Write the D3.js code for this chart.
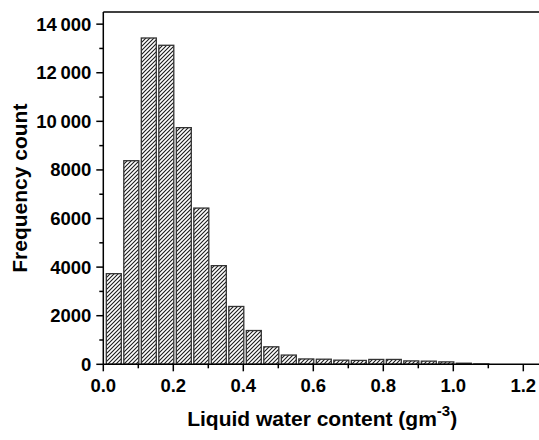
<!DOCTYPE html>
<html>
<head>
<meta charset="utf-8">
<script src="https://cdn.jsdelivr.net/npm/d3@7"></script>
<style>
  html, body { margin: 0; padding: 0; background: #fff; }
  svg { display: block; font-family: "Liberation Sans", Arial, sans-serif; }
</style>
</head>
<body>
<div id="chart"></div>
<script>
// bin left edges (gm-3), bin width 0.05
var binStarts = [0.00, 0.05, 0.10, 0.15, 0.20, 0.25, 0.30, 0.35, 0.40, 0.45, 0.50,
                 0.55, 0.60, 0.65, 0.70, 0.75, 0.80, 0.85, 0.90, 0.95, 1.00, 1.05];
var counts = [3730, 8380, 13430, 13130, 9740, 6430, 4060, 2380, 1390, 720, 380,
              220, 210, 170, 160, 200, 200, 140, 130, 100, 45, 15];
var binWidth = 0.05;
var xTicks = [0.0, 0.2, 0.4, 0.6, 0.8, 1.0, 1.2];
var xMinor = [0.1, 0.3, 0.5, 0.7, 0.9, 1.1];
var yTicks = [0, 2000, 4000, 6000, 8000, 10000, 12000, 14000];
var yMinor = [1000, 3000, 5000, 7000, 9000, 11000, 13000];

function drawChart() {
    var width = 539, height = 440;
    var left = 103.3, plotTop = 12, bottom = 364.3;

    var svg = d3.select('#chart').append('svg')
        .attr('width', width)
        .attr('height', height);

    var defs = svg.append('defs');
    defs.append('pattern')
        .attr('id', 'hatch')
        .attr('patternUnits', 'userSpaceOnUse')
        .attr('width', 4)
        .attr('height', 4)
        .append('path')
        .attr('d', 'M-1,1 L1,-1 M0,4 L4,0 M3,5 L5,3')
        .attr('stroke', '#1a1a1a')
        .attr('stroke-width', 1.1);

    var x = d3.scaleLinear().domain([0, 1.25]).range([left, left + 1.25 * 350]);
    var y = d3.scaleLinear().domain([0, 14500]).range([bottom, plotTop]);

    // bars
    var barW = x(binWidth) - x(0);
    svg.append('g')
        .selectAll('rect')
        .data(binStarts)
        .join('rect')
        .attr('x', function(d) { return x(d) + 3; })
        .attr('y', function(d, i) { return y(counts[i]); })
        .attr('width', barW - 2.5)
        .attr('height', function(d, i) { return bottom - y(counts[i]); })
        .attr('fill', 'url(#hatch)')
        .attr('stroke', '#333')
        .attr('stroke-width', 1.3);

    // frame top line
    svg.append('line')
        .attr('x1', left).attr('x2', width + 5)
        .attr('y1', plotTop).attr('y2', plotTop)
        .attr('stroke', '#000').attr('stroke-width', 1.5);

    // y axis
    var yAxis = svg.append('g').attr('transform', 'translate(' + left + ',0)');
    yAxis.append('line')
        .attr('x1', 0).attr('x2', 0).attr('y1', plotTop).attr('y2', bottom)
        .attr('stroke', '#000').attr('stroke-width', 1.5);
    yAxis.selectAll('.major').data(yTicks).join('line')
        .attr('class', 'major')
        .attr('x1', -7).attr('x2', 0)
        .attr('y1', function(d) { return y(d); }).attr('y2', function(d) { return y(d); })
        .attr('stroke', '#000').attr('stroke-width', 1.5);
    yAxis.selectAll('.minor').data(yMinor).join('line')
        .attr('class', 'minor')
        .attr('x1', -4).attr('x2', 0)
        .attr('y1', function(d) { return y(d); }).attr('y2', function(d) { return y(d); })
        .attr('stroke', '#000').attr('stroke-width', 1.5);
    yAxis.selectAll('text').data(yTicks).join('text')
        .attr('x', -12)
        .attr('y', function(d) { return y(d) + 6.5; })
        .attr('text-anchor', 'end')
        .attr('font-size', '18.5px')
        .attr('font-weight', 'bold')
        .text(function(d) {
            var s = String(d);
            return d >= 10000 ? s.slice(0, 2) + '\u2009' + s.slice(2) : s;
        });

    // x axis
    var xAxis = svg.append('g').attr('transform', 'translate(0,' + bottom + ')');
    xAxis.append('line')
        .attr('x1', left).attr('x2', width + 5).attr('y1', 0).attr('y2', 0)
        .attr('stroke', '#000').attr('stroke-width', 1.5);
    xAxis.selectAll('.major').data(xTicks).join('line')
        .attr('class', 'major')
        .attr('x1', function(d) { return x(d); }).attr('x2', function(d) { return x(d); })
        .attr('y1', 0).attr('y2', 7)
        .attr('stroke', '#000').attr('stroke-width', 1.5);
    xAxis.selectAll('.minor').data(xMinor).join('line')
        .attr('class', 'minor')
        .attr('x1', function(d) { return x(d); }).attr('x2', function(d) { return x(d); })
        .attr('y1', 0).attr('y2', 4)
        .attr('stroke', '#000').attr('stroke-width', 1.5);
    xAxis.selectAll('text').data(xTicks).join('text')
        .attr('x', function(d) { return x(d); })
        .attr('y', 27.5)
        .attr('text-anchor', 'middle')
        .attr('font-size', '18.5px')
        .attr('font-weight', 'bold')
        .text(function(d) { return d.toFixed(1); });

    // axis titles
    svg.append('text')
        .attr('transform', 'translate(27,' + ((plotTop + bottom) / 2) + ') rotate(-90)')
        .attr('text-anchor', 'middle')
        .attr('font-size', '21px')
        .attr('font-weight', 'bold')
        .text('Frequency count');

    var xt = svg.append('text')
        .attr('x', (left + width + 2) / 2)
        .attr('y', 426)
        .attr('text-anchor', 'middle')
        .attr('font-size', '21px')
        .attr('font-weight', 'bold');
    xt.append('tspan').text('Liquid water content (gm');
    xt.append('tspan').attr('dy', -10).attr('font-size', '15px').text('-3');
    xt.append('tspan').attr('dy', 10).text(')');
}

drawChart();
</script>
</body>
</html>
